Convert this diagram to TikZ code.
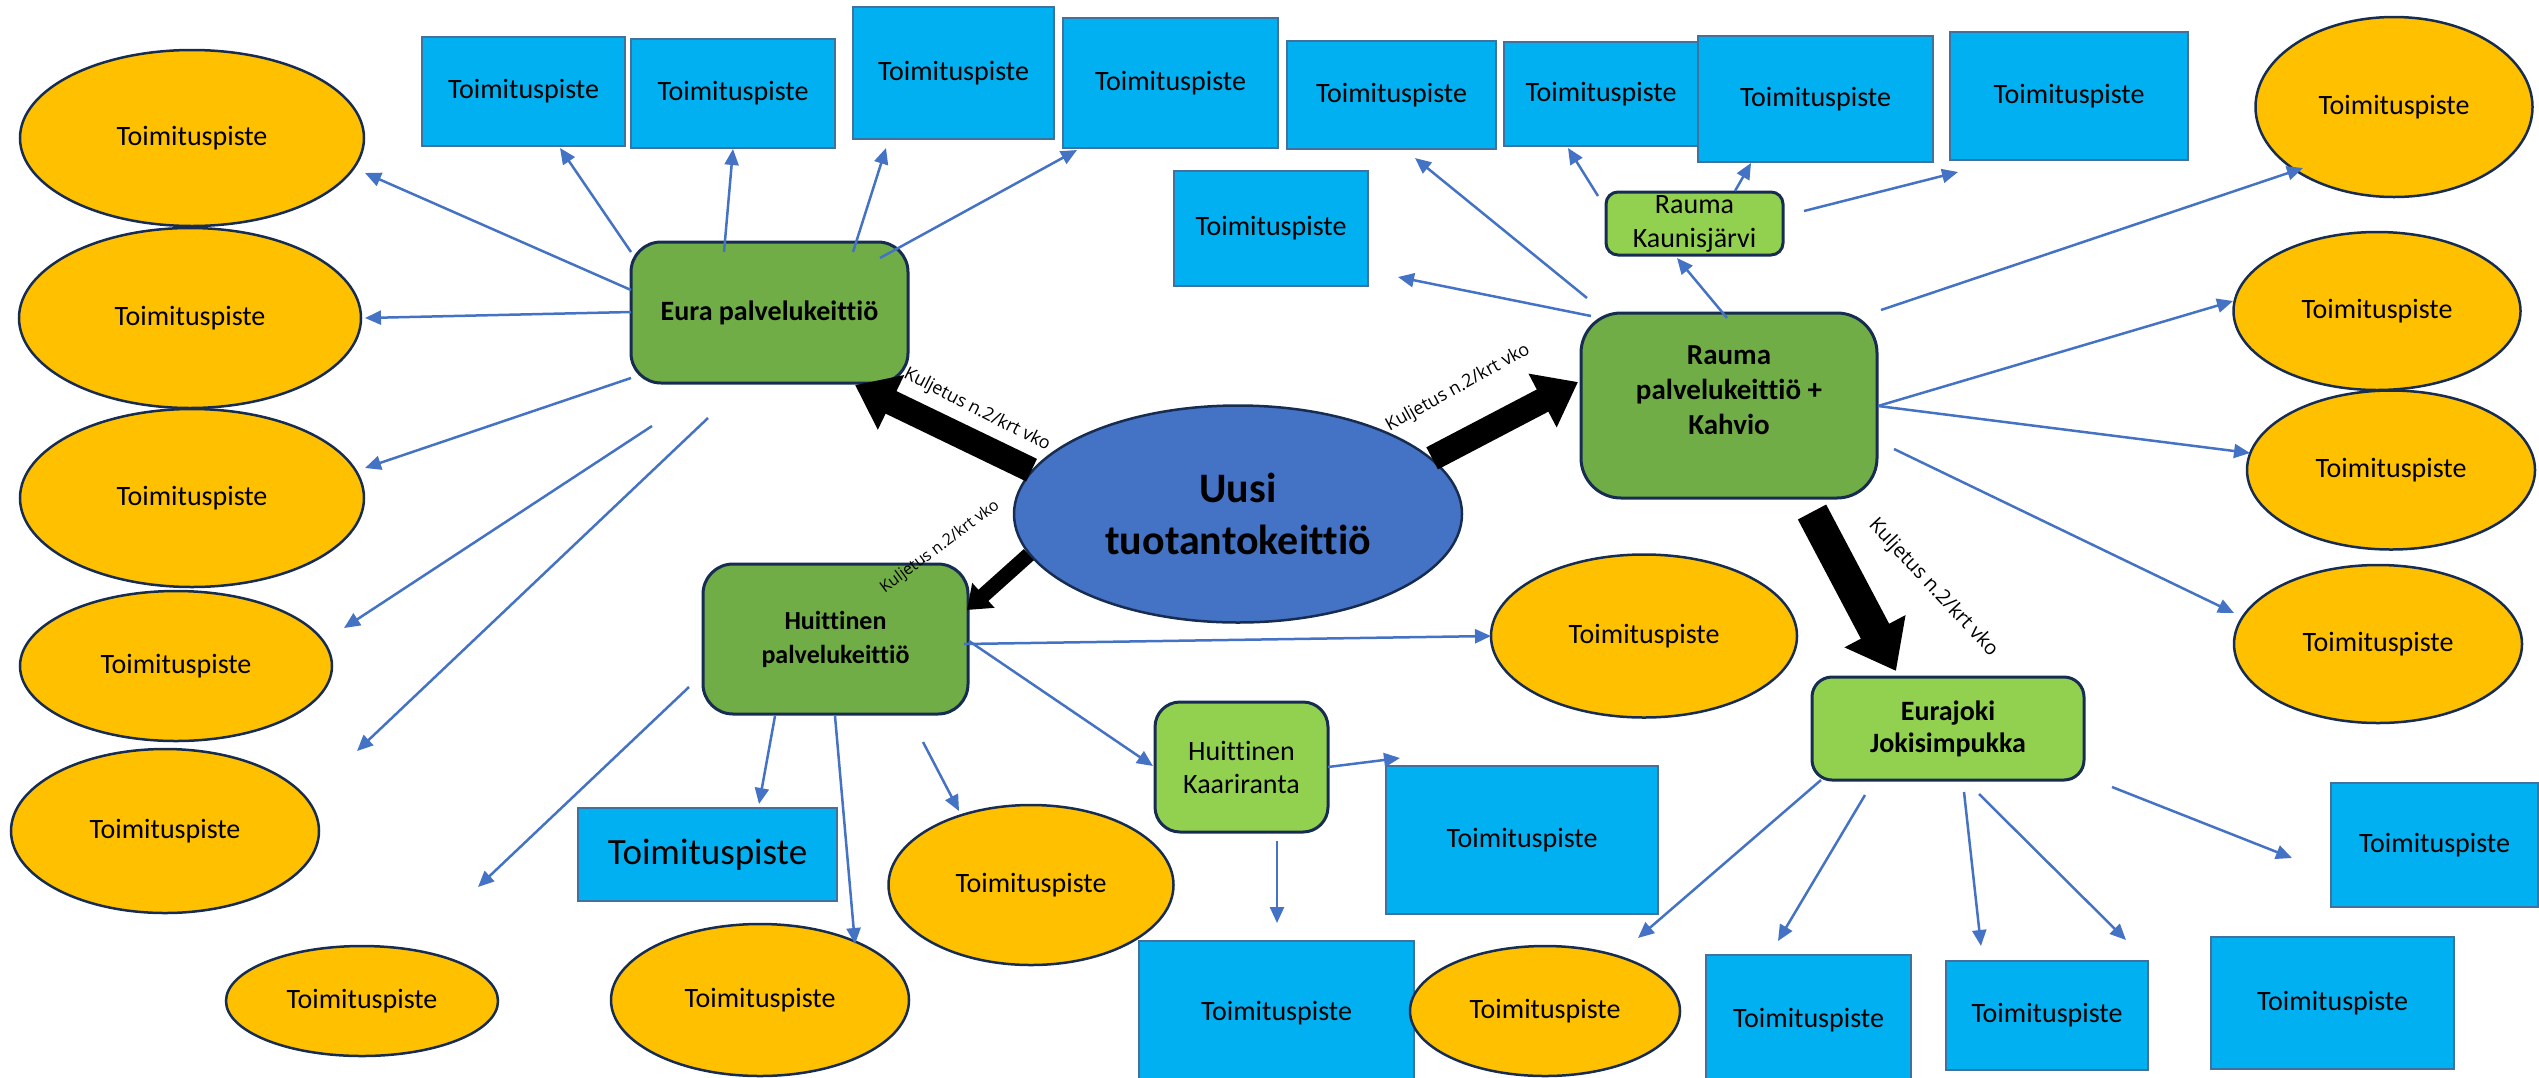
\documentclass[tikz,border=0pt]{standalone}
\usepackage{fontspec}
\setmainfont{Carlito}[Ligatures=NoCommon]
\newfontfamily\notefont{Open Sans}
\usetikzlibrary{shapes.geometric,arrows.meta}
\definecolor{lineblue}{HTML}{4472C4}
\definecolor{spotblue}{HTML}{00B0F0}
\definecolor{spotedge}{HTML}{41719C}
\definecolor{navy}{HTML}{172C51}
\definecolor{pointorange}{HTML}{FFC000}
\definecolor{kitchengreen}{HTML}{70AD47}
\definecolor{satgreen}{HTML}{92D050}
\tikzset{
  spot/.style={draw=spotedge,line width=2.5pt,fill=spotblue,inner sep=0pt,font=\fontsize{28}{34}\selectfont},
  point/.style={ellipse,draw=navy,line width=2.5pt,fill=pointorange,inner sep=0pt,font=\fontsize{28}{34}\selectfont},
  kitchen/.style={draw=navy,line width=3pt,fill=kitchengreen,rounded corners=30pt,inner sep=0pt,align=center,font=\bfseries\fontsize{28}{34}\selectfont},
  satellite/.style={draw=navy,line width=3pt,fill=satgreen,rounded corners=20pt,inner sep=0pt,align=center,font=\fontsize{28}{34}\selectfont},
  link/.style={draw=lineblue,line width=2.5pt,-{Triangle[length=16pt,width=14pt]}},
  haul/.style={draw=black,line width=25pt,-{Triangle[length=40pt,width=58pt]}},
  haulnote/.style={inner sep=0pt,font=\notefont\fontsize{18}{22}\selectfont}
}
\begin{document}
\begin{tikzpicture}[x=1pt,y=-1pt]
\useasboundingbox (0,0) rectangle (2539,1077);
\node[spot,minimum width=203pt,minimum height=109pt] (s1) at (523.5,91.5) {Toimituspiste};
\node[spot,minimum width=204pt,minimum height=109pt] (s2) at (733,93.5) {Toimituspiste};
\node[spot,minimum width=201pt,minimum height=132pt] (s3) at (953.5,73) {Toimituspiste};
\node[spot,minimum width=215pt,minimum height=130pt] (s4) at (1170.5,83) {Toimituspiste};
\node[spot,minimum width=209pt,minimum height=108pt] (s5) at (1391.5,95) {Toimituspiste};
\node[spot,minimum width=194pt,minimum height=104pt] (s6) at (1601,94) {Toimituspiste};
\node[spot,minimum width=235pt,minimum height=126pt] (s7) at (1815.5,99) {Toimituspiste};
\node[spot,minimum width=238pt,minimum height=128pt] (s8) at (2069,96) {Toimituspiste};
\node[spot,minimum width=194pt,minimum height=115pt] (s9) at (1271,228.5) {Toimituspiste};
\node[spot,minimum width=259pt,minimum height=93pt,font=\fontsize{37}{44}\selectfont] (s10) at (707.5,854.5) {Toimituspiste};
\node[spot,minimum width=272pt,minimum height=148pt] (s11) at (1522,840) {Toimituspiste};
\node[spot,minimum width=275pt,minimum height=144pt] (s12) at (1276.5,1013) {Toimituspiste};
\node[spot,minimum width=205pt,minimum height=130pt] (s13) at (1808.5,1020) {Toimituspiste};
\node[spot,minimum width=202pt,minimum height=109pt] (s14) at (2047,1015.5) {Toimituspiste};
\node[spot,minimum width=243pt,minimum height=132pt] (s15) at (2332.5,1003) {Toimituspiste};
\node[spot,minimum width=207pt,minimum height=124pt] (s16) at (2434.5,845) {Toimituspiste};
\node[point,minimum width=344pt,minimum height=176pt] (w1) at (192,138) {Toimituspiste};
\node[point,minimum width=342pt,minimum height=180pt] (w2) at (190,318) {Toimituspiste};
\node[point,minimum width=344pt,minimum height=178pt] (w3) at (192,498) {Toimituspiste};
\node[point,minimum width=312pt,minimum height=150pt] (w4) at (176,666) {Toimituspiste};
\node[point,minimum width=308pt,minimum height=164pt] (w5) at (165,831) {Toimituspiste};
\node[point,minimum width=272pt,minimum height=110pt] (w6) at (362,1001) {Toimituspiste};
\node[point,minimum width=298pt,minimum height=152pt] (w7) at (760,1000) {Toimituspiste};
\node[point,minimum width=285pt,minimum height=160pt] (h1) at (1031,885) {Toimituspiste};
\node[point,minimum width=306pt,minimum height=163pt] (h2) at (1644,636) {Toimituspiste};
\node[point,minimum width=270pt,minimum height=130pt] (j1) at (1545,1011) {Toimituspiste};
\node[point,minimum width=277pt,minimum height=180pt] (r1) at (2394,107) {Toimituspiste};
\node[point,minimum width=287pt,minimum height=158pt] (r2) at (2377,311) {Toimituspiste};
\node[point,minimum width=288pt,minimum height=159pt] (r3) at (2391,470) {Toimituspiste};
\node[point,minimum width=288pt,minimum height=158pt] (r4) at (2378,644) {Toimituspiste};
\node[ellipse,draw=navy,line width=2.5pt,fill=lineblue,inner sep=0pt,minimum width=448pt,minimum height=217pt,align=center,font=\bfseries\fontsize{42}{52}\selectfont] (uusi) at (1238,514) {Uusi\\tuotantokeittiö};
\node[kitchen,minimum width=277pt,minimum height=141pt] (eura) at (769.5,312.5) {Eura palvelukeittiö};
\node[kitchen,minimum width=265pt,minimum height=150pt,font=\bfseries\fontsize{26}{34}\selectfont] (huittinen) at (835.5,639) {Huittinen\\palvelukeittiö};
\node[kitchen,minimum width=296pt,minimum height=185pt,rounded corners=40pt] (rauma) at (1729,405.5) {};
\node[align=center,font=\bfseries\fontsize{29}{35}\selectfont] (raumatext) at (1729,390) {Rauma\\palvelukeittiö +\\Kahvio};
\node[satellite,minimum width=177pt,minimum height=63pt,rounded corners=12pt] (kaunis) at (1694.5,223.5) {Rauma\\Kaunisjärvi};
\node[satellite,minimum width=173pt,minimum height=130pt,rounded corners=25pt,font=\fontsize{28}{33}\selectfont] (kaari) at (1241.5,767) {Huittinen\\Kaariranta};
\node[satellite,minimum width=272pt,minimum height=103pt,font=\bfseries\fontsize{28}{32}\selectfont] (eurajoki) at (1948,728.5) {Eurajoki\\Jokisimpukka};
\foreach \i/\ax/\ay/\bx/\by in {1/631/290/365/173, 2/631/312/365/318, 3/631/252/560/148, 4/724/252/733/149,
  5/853/252/886/148, 6/880/258/1077/150, 7/631/378/365/468, 8/652/426/344/628, 9/708/418/357/751,
  10/689/687/478/887, 11/775/716/759/804, 12/835/716/855/944, 13/923/742/959/811, 14/964/644/1491/636,
  15/969/641/1153/766, 16/1328/767/1400/758, 17/1277/841/1277/923, 18/1821/780/1638/938,
  19/1865/795/1778/941, 20/1964/792/1981/946, 21/1979/794/2126/940, 22/2112/787/2292/858,
  23/1881/310/2303/168, 24/1878/406/2233/301, 25/1878/406/2250/453, 26/1894/449/2234/613,
  27/1591/316/1398/277, 28/1587/298/1415/158, 29/1727/318/1677/258, 30/1598/196/1568/148,
  31/1735/191/1751/163, 32/1804/211/1958/172}{
  \coordinate (from\i) at (\ax,\ay);
  \coordinate (to\i) at (\bx,\by);
  \draw[link] (from\i) -- (to\i);
}
\coordinate (euratip) at (855,385);
\coordinate (raumatip) at (1578,382);
\coordinate (huittinentip) at (967,610);
\coordinate (jokitail) at (1812,512);
\coordinate (jokitip) at (1896,671);
\draw[haul] (uusi.168) -- (euratip);
\draw[haul] (uusi.16) -- (raumatip);
\draw[haul,line width=15pt,-{Triangle[length=22pt,width=32pt]}] (uusi.191) -- (huittinentip);
\draw[haul,line width=32pt,-{Triangle[length=45pt,width=66pt]}] (jokitail) -- (jokitip);
\node[haulnote,rotate=-27] (note1) at (977,410) {Kuljetus n.2/krt vko};
\node[haulnote,rotate=29] (note2) at (1458,388) {Kuljetus n.2/krt vko};
\node[haulnote,rotate=36.5,font=\notefont\fontsize{16}{20}\selectfont] (note3) at (940,547) {Kuljetus n.2/krt vko};
\node[haulnote,rotate=-47,font=\notefont\fontsize{20}{24}\selectfont] (note4) at (1933,588) {Kuljetus n.2/krt vko};
\end{tikzpicture}
\end{document}
